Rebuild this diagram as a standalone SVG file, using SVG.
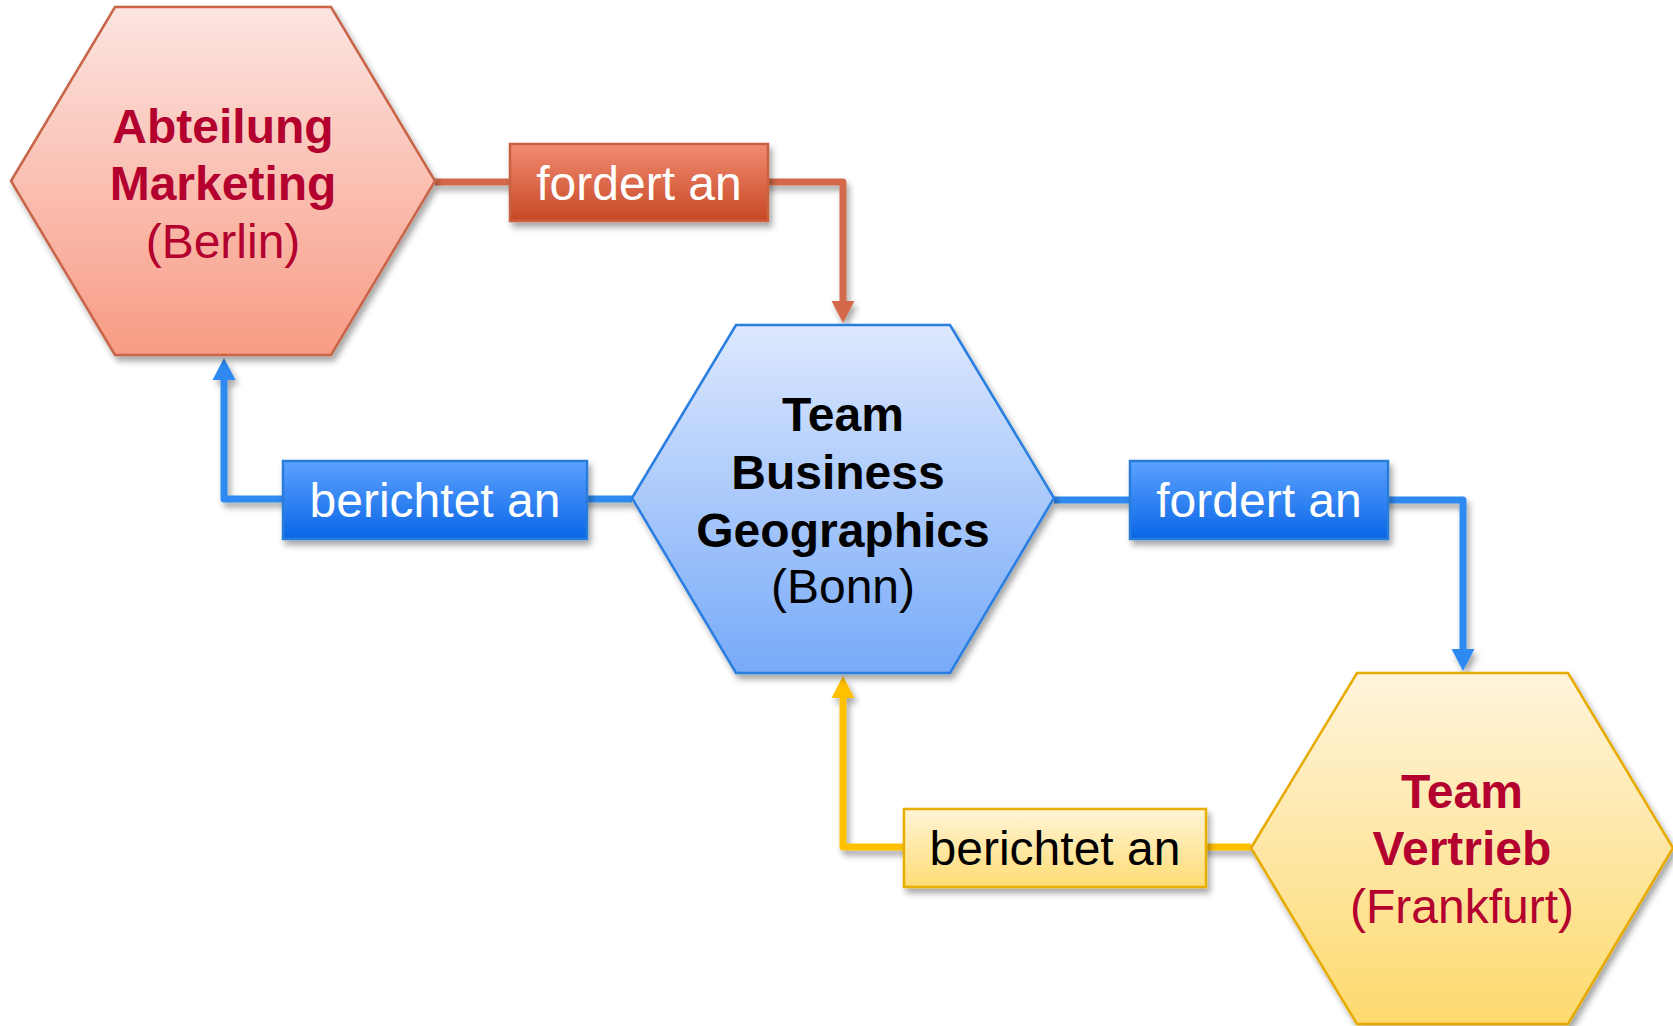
<svg xmlns="http://www.w3.org/2000/svg" width="1673" height="1026" viewBox="0 0 1673 1026">
<defs>
<linearGradient id="gRedHex" x1="0" y1="0" x2="0" y2="1"><stop offset="0" stop-color="#FCE5E1"/><stop offset="1" stop-color="#F89B84"/></linearGradient>
<linearGradient id="gBlueHex" x1="0" y1="0" x2="0" y2="1"><stop offset="0" stop-color="#DDE8FE"/><stop offset="1" stop-color="#77AAF8"/></linearGradient>
<linearGradient id="gYelHex" x1="0" y1="0" x2="0" y2="1"><stop offset="0" stop-color="#FFF4DC"/><stop offset="1" stop-color="#FDDA6E"/></linearGradient>
<linearGradient id="gRedBox" x1="0" y1="0" x2="0" y2="1"><stop offset="0" stop-color="#F28B72"/><stop offset="1" stop-color="#C64824"/></linearGradient>
<linearGradient id="gBlueBox" x1="0" y1="0" x2="0" y2="1"><stop offset="0" stop-color="#5CA2FF"/><stop offset="1" stop-color="#0A66E6"/></linearGradient>
<linearGradient id="gYelBox" x1="0" y1="0" x2="0" y2="1"><stop offset="0" stop-color="#FFF4D6"/><stop offset="1" stop-color="#FFDC74"/></linearGradient>
<filter id="sh" filterUnits="userSpaceOnUse" x="0" y="0" width="1673" height="1026"><feDropShadow dx="3" dy="5" stdDeviation="3" flood-color="#000" flood-opacity="0.35"/></filter>
<marker id="aRed" markerUnits="userSpaceOnUse" markerWidth="24" markerHeight="24" refX="0" refY="12" orient="auto"><path d="M0,0.5 L22,12 L0,23.5 z" fill="#D4694A"/></marker>
<marker id="aBlue" markerUnits="userSpaceOnUse" markerWidth="24" markerHeight="24" refX="0" refY="12" orient="auto"><path d="M0,0.5 L22,12 L0,23.5 z" fill="#2E8AF0"/></marker>
<marker id="aYel" markerUnits="userSpaceOnUse" markerWidth="24" markerHeight="24" refX="0" refY="12" orient="auto"><path d="M0,0.5 L22,12 L0,23.5 z" fill="#FFC000"/></marker>
</defs>
<style>
text{font-family:"Liberation Sans",Arial,sans-serif;font-size:48px;text-anchor:middle}
.b{font-weight:bold}
.cr{fill:#B4002F}
.bk{fill:#000}
.wh{fill:#fff}
.hex{stroke-width:2.5;filter:url(#sh)}
.con{fill:none;stroke-width:7;stroke-linejoin:round;filter:url(#sh)}
.box{stroke-width:2.5;filter:url(#sh)}
</style>
<rect width="1673" height="1026" fill="#fff"/>
<g id="connectors">
<path class="con" d="M435,182 H843 V301" stroke="#D4694A" marker-end="url(#aRed)"/>
<path class="con" d="M632,499 H224 V380" stroke="#2E8AF0" marker-end="url(#aBlue)"/>
<path class="con" d="M1054,500 H1463 V649" stroke="#2E8AF0" marker-end="url(#aBlue)"/>
<path class="con" d="M1251,847 H843 V698" stroke="#FFC000" marker-end="url(#aYel)"/>
<g id="label-fordert-1">
<rect class="box" x="510" y="144" width="258" height="77" fill="url(#gRedBox)" stroke="#C9613F"/>
<text class="wh" x="639" y="200">fordert an</text>
</g>
<g id="label-berichtet-1">
<rect class="box" x="283" y="461" width="304" height="78" fill="url(#gBlueBox)" stroke="#2B7CDB"/>
<text class="wh" x="435" y="517">berichtet an</text>
</g>
<g id="label-fordert-2">
<rect class="box" x="1130" y="461" width="258" height="78" fill="url(#gBlueBox)" stroke="#2B7CDB"/>
<text class="wh" x="1259" y="517">fordert an</text>
</g>
<g id="label-berichtet-2">
<rect class="box" x="904" y="809" width="302" height="78" fill="url(#gYelBox)" stroke="#E8AE00"/>
<text class="bk" x="1055" y="865">berichtet an</text>
</g>
</g>
<g id="node-berlin">
<polygon class="hex" points="11,181 115,7 331,7 435,181 331,355 115,355" fill="url(#gRedHex)" stroke="#C8654A"/>
<text class="b cr" x="223" y="143">Abteilung</text>
<text class="b cr" x="223" y="200">Marketing</text>
<text class="cr" x="223" y="258">(Berlin)</text>
</g>
<g id="node-bonn">
<polygon class="hex" points="632,498 736,325 950,325 1054,498 950,673 736,673" fill="url(#gBlueHex)" stroke="#2A7EE0"/>
<text class="b bk" x="843" y="431">Team</text>
<text class="b bk" x="838" y="489">Business</text>
<text class="b bk" x="843" y="547">Geographics</text>
<text class="bk" x="843" y="603">(Bonn)</text>
</g>
<g id="node-frankfurt">
<polygon class="hex" points="1251,848 1357,673 1568,673 1673,848 1568,1024 1357,1024" fill="url(#gYelHex)" stroke="#E6AA00"/>
<text class="b cr" x="1462" y="808">Team</text>
<text class="b cr" x="1462" y="865">Vertrieb</text>
<text class="cr" x="1462" y="923">(Frankfurt)</text>
</g>
</svg>
